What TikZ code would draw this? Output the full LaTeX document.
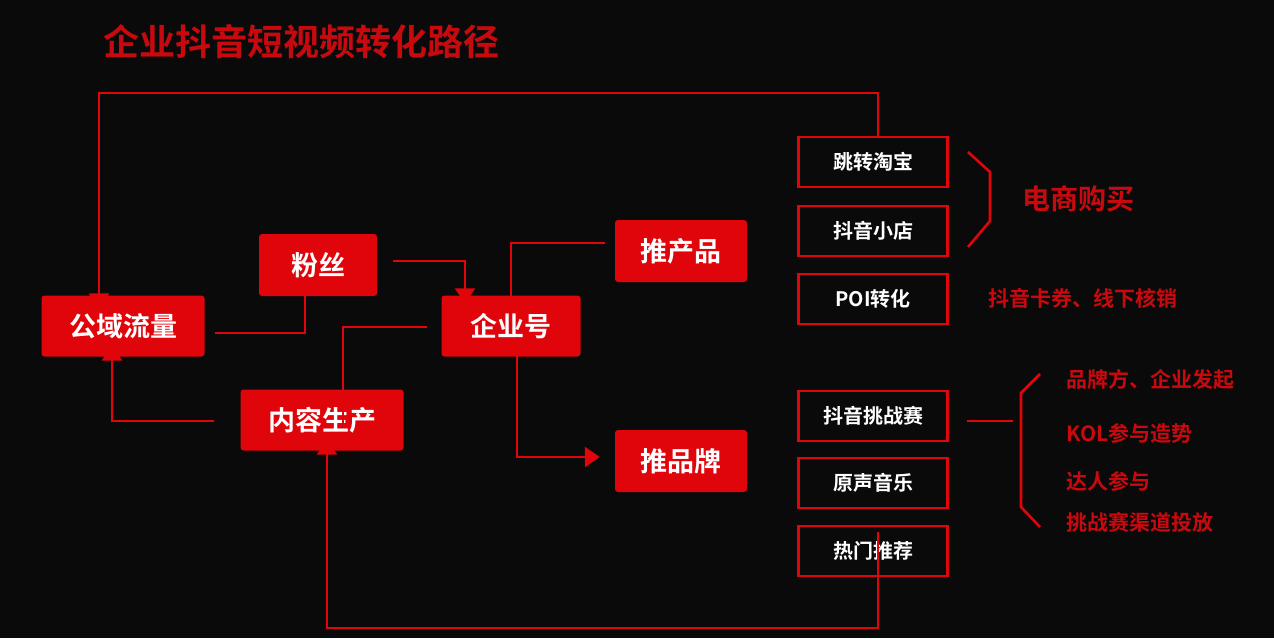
\documentclass[tikz,border=0pt]{standalone}
\usepackage{fontspec}
\setmainfont{Noto Sans CJK SC Bold}
\usetikzlibrary{positioning, arrows.meta}
\definecolor{bg}{HTML}{0B0A0A}
\definecolor{hot}{HTML}{E0040B}
\definecolor{dim}{HTML}{C8090E}
\tikzset{
  solid/.style={fill=hot, rounded corners=3pt, text=white, font=\fontsize{27}{30}\selectfont, inner sep=0pt},
  ring/.style={draw=hot, line width=2.2pt, minimum width=149pt, minimum height=50pt, text=white, font=\fontsize{20}{24}\selectfont, inner sep=0pt},
  wire/.style={draw=hot, line width=2.6pt},
  tip/.style={-{Triangle[width=20pt,length=15pt]}},
  note/.style={text=dim, font=\fontsize{21}{24}\selectfont, anchor=west, inner sep=0pt}
}
\begin{document}
\begin{tikzpicture}[x=1pt, y=-1pt]
   \fill[bg] (0,0) rectangle (1274,638);
   \useasboundingbox (0,0) rectangle (1274,638);
   \node[text=dim, font=\fontsize{36}{40}\selectfont, anchor=west] (title) at (100,42) {企业抖音短视频转化路径};

   % Filled boxes
   \node[solid, minimum width=163pt, minimum height=61pt] (gy) at (123,326) {公域流量};
   \node[solid, minimum width=118pt, minimum height=62pt] (fs) at (318,265) {粉丝};
   \node[solid, minimum width=139pt, minimum height=61pt] (qy) at (511,326) {企业号};
   \node[solid, minimum width=163pt, minimum height=61pt] (nr) at (322,420) {内容生产};
   \node[solid, minimum width=132pt, minimum height=62pt] (cp) at (681,251) {推产品};
   \node[solid, minimum width=132pt, minimum height=62pt] (pp) at (681,461) {推品牌};

   % Outlined boxes
   \node[ring] (tb) at (873,162) {跳转淘宝};
   \node[ring] (xd) at (873,231) {抖音小店};
   \node[ring] (poi) at (873,299) {POI转化};
   \node[ring] (tz) at (873,416) {抖音挑战赛};
   \node[ring] (yy) at (873,483) {原声音乐};
   \node[ring] (rm) at (873,551) {热门推荐};

   % Notes
   \node[note, font=\fontsize{28}{30}\selectfont] (ds) at (1022,199) {电商购买};
   \node[note] (kq) at (988,298) {抖音卡券、线下核销};
   \node[note] (n1) at (1066,380) {品牌方、企业发起};
   \node[note] (n2) at (1066,433) {KOL参与造势};
   \node[note] (n3) at (1066,481) {达人参与};
   \node[note] (n4) at (1066,522) {挑战赛渠道投放};

   % Connectors
   \draw[wire, tip] ([yshift=-1pt]tb.north -| 878,0) -- (878,93) -| ([yshift=-13pt]gy.north -| 99,0);
   \draw[wire, tip] ([yshift=45pt]rm.south -| 878,0) -- (878,628) -| ([yshift=11pt]nr.south -| 327,0);
   \draw[wire] ([xshift=10pt]gy.east |- 0,333) -| ([yshift=16pt]fs.south -| 305,0);
   \draw[wire, tip] ([xshift=16pt]fs.east |- 0,261) -| ([yshift=-8pt]qy.north -| 465,0);
   \draw[wire] ([yshift=-38pt]nr.north -| 343,0) |- ([xshift=-14pt]qy.west |- 0,327);
   \draw[wire, tip] ([xshift=-26pt]nr.west |- 0,421) -| ([yshift=11pt]gy.south -| 112,0);
   \draw[wire] ([yshift=-12pt]qy.north -| 511,0) |- ([xshift=-10pt]cp.west |- 0,243);
   \draw[wire, tip] ([yshift=20pt]qy.south -| 517,0) |- ([xshift=-15pt]pp.west |- 0,457);
   \draw[wire] ([xshift=18pt]tz.east |- 0,421) -- (1013,421);

   % Brackets
   \draw[wire] (968,152) -- (990,172) -- (990,221) -- (968,247);
   \draw[wire] (1040,374) -- (1021,393) -- (1021,507) -- (1040,527);
\end{tikzpicture}
\end{document}
